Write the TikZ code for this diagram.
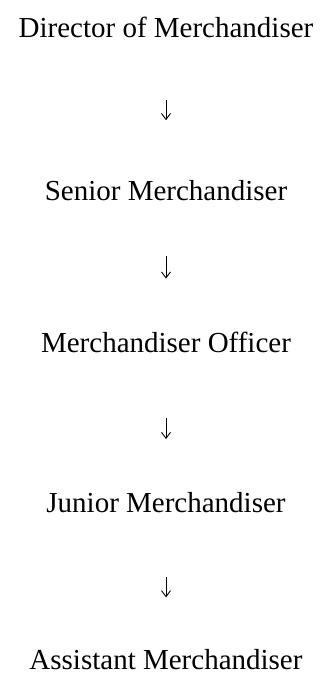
\documentclass[tikz,border=0pt]{standalone}
\usepackage{fontspec}
\setmainfont{Liberation Serif}
\usetikzlibrary{arrows.meta,positioning}
\tikzset{
  >={Straight Barb[length=6pt,width=9pt]},
  rank/.style={inner sep=0pt,text height=20pt,text depth=6pt,font=\fontsize{29}{34}\selectfont},
  down/.style 2 args={->,line width=0.9pt,shorten <=#1,shorten >=#2}
}

\begin{document}
\begin{tikzpicture}
  \useasboundingbox (0,0) rectangle (334pt,-686pt);

  \node[rank] (dir) at (166pt,-30pt) {Director of Merchandiser};
  \node[rank,below=137pt of dir] (senior) {Senior Merchandiser};
  \node[rank,below=126pt of senior] (officer) {Merchandiser Officer};
  \node[rank,below=133pt of officer] (junior) {Junior Merchandiser};
  \node[rank,below=131pt of junior] (assist) {Assistant Merchandiser};

  \draw[down={57pt}{60pt}] (dir) -- (senior);
  \draw[down={49pt}{54pt}] (senior) -- (officer);
  \draw[down={59pt}{53pt}] (officer) -- (junior);
  \draw[down={59pt}{52pt}] (junior) -- (assist);
\end{tikzpicture}
\end{document}
